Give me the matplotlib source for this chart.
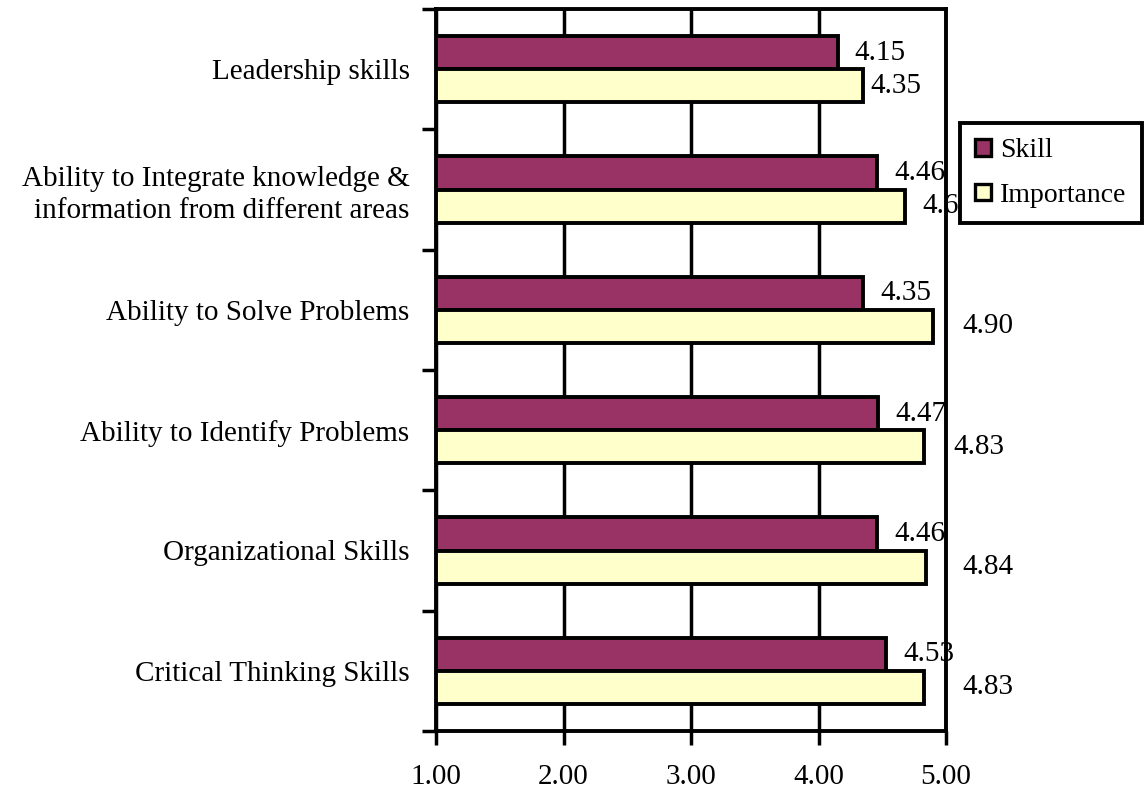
import matplotlib
matplotlib.use("Agg")
import matplotlib.pyplot as plt
import numpy as np
from matplotlib.patches import Patch

categories = ["Critical Thinking Skills", "Organizational Skills", "Ability to Identify Problems",
              "Ability to Solve Problems",
              "Ability to Integrate knowledge &\ninformation from different areas",
              "Leadership skills"]
skill = [4.53, 4.46, 4.47, 4.35, 4.46, 4.15]
importance = [4.83, 4.84, 4.83, 4.90, 4.68, 4.35]
xticks = [1.0, 2.0, 3.0, 4.0, 5.0]

skill_color = "#993366"
imp_color = "#FFFFCC"

plt.rcParams['font.family'] = ['Liberation Serif', 'DejaVu Serif']

fig = plt.figure(figsize=(11.45, 7.89), dpi=100)
ax = fig.add_axes([436/1145, 1-731/789, 510/1145, 722/789])

y = np.arange(len(categories))
h = 0.275
lw = 2.8
fs = 21
ax.barh(y + h/2, [s - 1 for s in skill], left=1, height=h, color=skill_color,
        edgecolor="black", linewidth=lw, zorder=3)
ax.barh(y - h/2, [v - 1 for v in importance], left=1, height=h, color=imp_color,
        edgecolor="black", linewidth=lw, zorder=3)

ax.set_xlim(1, 5)
ax.set_ylim(-0.5, len(categories) - 0.5)
ax.set_xticks(xticks)
ax.set_xticklabels([f"{t:.2f}" for t in xticks], fontsize=fs)
ax.set_yticks(y)
ax.set_yticklabels(categories, fontsize=fs, linespacing=1.3)
ax.tick_params(axis='y', which='major', length=0, pad=19)
ax.set_yticks(np.arange(-0.5, len(categories), 1.0), minor=True)
ax.tick_params(axis='y', which='minor', length=10, width=2.5, direction='out')
ax.tick_params(axis='x', which='major', length=10, width=2.5, direction='out', pad=14)

ax.grid(axis='x', color='black', linewidth=2.5, zorder=0)
for sp in ax.spines.values():
    sp.set_linewidth(2.8)

# value labels
skill_dx = [17, 17, 17, 17, 17, 17]
imp_dx = [38, 37, 29, 29, 17, 7]
for i in range(len(categories)):
    ax.annotate(f"{skill[i]:.2f}", xy=(skill[i], y[i] + h/2), xytext=(skill_dx[i] * 0.72, 0),
                textcoords='offset points', va='center', ha='left', fontsize=fs,
                annotation_clip=False, zorder=4)
    ax.annotate(f"{importance[i]:.2f}", xy=(importance[i], y[i] - h/2), xytext=(imp_dx[i] * 0.72, 0),
                textcoords='offset points', va='center', ha='left', fontsize=fs,
                annotation_clip=False, zorder=4)

handles = [Patch(facecolor=skill_color, edgecolor='black', linewidth=2.4, label='Skill'),
           Patch(facecolor=imp_color, edgecolor='black', linewidth=2.4, label='Importance')]
leg = fig.legend(handles=handles, loc='upper left', bbox_to_anchor=(960/1145, 1-123/789),
                 fontsize=20, frameon=True, fancybox=False, edgecolor='black', framealpha=1,
                 handlelength=0.55, handleheight=0.55, handletextpad=0.35,
                 borderpad=0.55, labelspacing=0.7, borderaxespad=0)
leg.get_frame().set_linewidth(2.8)
leg.set_zorder(10)

fig.savefig("out.png", dpi=100)
